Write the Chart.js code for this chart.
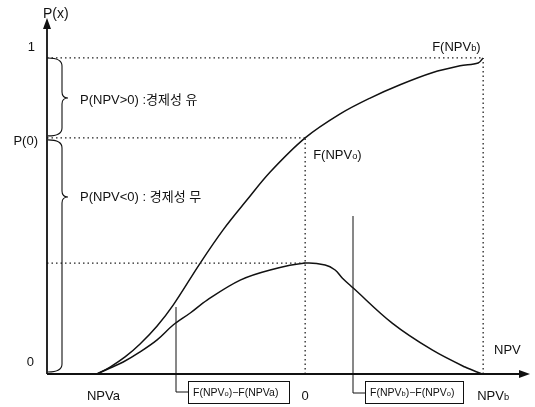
<!DOCTYPE html>
<html>
<head>
<meta charset="utf-8">
<script src="https://cdn.jsdelivr.net/npm/chart.js@4"></script>
<style>
  html, body { margin: 0; padding: 0; background: #fff; }
  #wrap { width: 535px; height: 407px; position: relative; }
</style>
</head>
<body>
<div id="wrap"><canvas id="npvChart"></canvas></div>
<script>
// key points on the NPV axis
var npvA = -100, npv0 = 0, npvB = 85.5;
var p0 = 0.747, pdfPeak = 0.351;

// cumulative curve F(NPV)
var cdfX = [-100, -93.7, -86.5, -79.3, -71.1, -63.4, -50.4, -39.4, -27.9, -16.8, 0, 16.8, 31.2, 45.6, 61, 74.4, 83.1, 85.5];
var cdfY = [0, 0.022, 0.054, 0.095, 0.152, 0.218, 0.351, 0.456, 0.551, 0.639, 0.747, 0.823, 0.873, 0.915, 0.953, 0.975, 0.984, 1.0];

// density curve
var pdfX = [-100, -93.7, -87.4, -79.3, -71.1, -63.4, -55.2, -47.1, -31.2, -16.8, 0, 9.6, 14.4, 17.8, 23.1, 41.8, 61, 76.8, 85];
var pdfY = [0, 0.019, 0.038, 0.070, 0.108, 0.155, 0.193, 0.234, 0.297, 0.329, 0.351, 0.345, 0.329, 0.304, 0.272, 0.161, 0.076, 0.022, 0];

// tick labels
var yTickLabels = ['0', 'P(0)', '1'];

var FONT = '"Liberation Sans", "Noto Sans CJK KR", sans-serif';

function pts(xs, ys) {
  return xs.map(function (x, i) { return { x: x, y: ys[i] }; });
}

function dotted(points) {
  return {
    data: points,
    borderColor: '#222',
    borderWidth: 1.3,
    borderDash: [1.5, 3],
    pointRadius: 0,
    showLine: true,
    tension: 0
  };
}

function curve(points) {
  return {
    data: points,
    borderColor: '#111',
    borderWidth: 1.5,
    pointRadius: 0,
    showLine: true,
    tension: 0.35
  };
}

// draw text with small subscript pieces: parts = [[text, small]]
function rich(ctx, parts, x, y, size) {
  var cx = x;
  parts.forEach(function (p) {
    var s = p[1] ? size * 0.72 : size;
    ctx.font = s + 'px ' + FONT;
    ctx.fillText(p[0], cx, y + (p[1] ? size * 0.12 : 0));
    cx += ctx.measureText(p[0]).width;
  });
  return cx - x;
}

function brace(ctx, x0, y1, y2, tip) {
  var bx = x0 + 15, tx = x0 + 21;
  ctx.beginPath();
  ctx.moveTo(x0 + 1, y1);
  ctx.quadraticCurveTo(bx, y1, bx, y1 + 8);
  ctx.lineTo(bx, tip - 6);
  ctx.quadraticCurveTo(bx, tip, tx, tip);
  ctx.quadraticCurveTo(bx, tip, bx, tip + 6);
  ctx.lineTo(bx, y2 - 8);
  ctx.quadraticCurveTo(bx, y2, x0 + 1, y2);
  ctx.stroke();
}

var decor = {
  id: 'decor',
  afterDatasetsDraw: function (chart) {
    var ctx = chart.ctx;
    var xs = chart.scales.x, ys = chart.scales.y;
    var X = function (v) { return xs.getPixelForValue(v); };
    var Y = function (v) { return ys.getPixelForValue(v); };
    var a = chart.chartArea;
    ctx.save();
    ctx.strokeStyle = '#111';
    ctx.fillStyle = '#111';

    // axes with arrows
    ctx.lineWidth = 1.8;
    ctx.beginPath();
    ctx.moveTo(a.left, Y(0));
    ctx.lineTo(a.left, a.top + 4);
    ctx.moveTo(a.left, Y(0));
    ctx.lineTo(a.right - 4, Y(0));
    ctx.stroke();
    ctx.beginPath();
    ctx.moveTo(a.left, a.top - 2);
    ctx.lineTo(a.left - 4, a.top + 9);
    ctx.lineTo(a.left + 4, a.top + 9);
    ctx.closePath();
    ctx.fill();
    ctx.beginPath();
    ctx.moveTo(a.right, Y(0));
    ctx.lineTo(a.right - 11, Y(0) - 4);
    ctx.lineTo(a.right - 11, Y(0) + 4);
    ctx.closePath();
    ctx.fill();

    // braces
    ctx.lineWidth = 1.1;
    brace(ctx, a.left, Y(1), Y(p0) - 2, 98);
    brace(ctx, a.left, Y(p0) + 2, Y(0) - 2, 197);

    // axis texts
    ctx.textBaseline = 'middle';
    ctx.font = '13px ' + FONT;
    ctx.textAlign = 'right';
    ctx.fillText(yTickLabels[2], 35, Y(1) - 11);
    ctx.fillText(yTickLabels[1], 38, Y(p0) + 4);
    ctx.fillText(yTickLabels[0], 34, Y(0) - 12);
    ctx.textAlign = 'left';
    ctx.font = '14px ' + FONT;
    ctx.fillText('P(x)', a.left - 4, 14);
    ctx.font = '13px ' + FONT;
    ctx.fillText('NPV', 494, 350);
    ctx.fillText('NPVa', X(npvA) - 10, 396);
    ctx.textAlign = 'center';
    ctx.fillText('0', X(npv0), 396);
    ctx.textAlign = 'left';
    rich(ctx, [['NPV', false], ['b', true]], X(npvB) - 6, 396, 13);

    // region texts
    ctx.font = '13px ' + FONT;
    ctx.fillText('P(NPV>0) :경제성 유', 80, 100);
    ctx.fillText('P(NPV<0) : 경제성 무', 80, 197);
    rich(ctx, [['F(NPV', false], ['b', true], [')', false]], X(npvB) - 51, 47, 13);
    rich(ctx, [['F(NPV', false], ['o', true], [')', false]], X(npv0) + 8, 155, 13);

    // callouts with boxes
    ctx.lineWidth = 1;
    function callout(vx, yTop, yBend, bx, bw, parts) {
      ctx.beginPath();
      ctx.moveTo(vx, yTop);
      ctx.lineTo(vx, yBend);
      ctx.lineTo(bx, yBend);
      ctx.stroke();
      ctx.strokeRect(bx + 0.5, 381.5, bw, 22);
      rich(ctx, parts, bx + 5, 393, 10.5);
    }
    callout(176, 307, 392, 188, 101,
      [['F(NPV', false], ['o', true], [')−F(NPVa)', false]]);
    callout(353, 216, 393, 365, 98,
      [['F(NPV', false], ['b', true], [')−F(NPV', false], ['o', true], [')', false]]);

    ctx.restore();
  }
};

new Chart(document.getElementById('npvChart'), {
  type: 'scatter',
  data: {
    datasets: [
      dotted([{ x: -124, y: 1 }, { x: npvB, y: 1 }]),
      dotted([{ x: -124, y: p0 }, { x: npv0, y: p0 }]),
      dotted([{ x: -124, y: pdfPeak }, { x: npv0, y: pdfPeak }]),
      dotted([{ x: npv0, y: 0 }, { x: npv0, y: p0 }]),
      dotted([{ x: npvB, y: 0 }, { x: npvB, y: 1 }]),
      curve(pts(cdfX, cdfY)),
      curve(pts(pdfX, pdfY))
    ]
  },
  options: {
    responsive: true,
    maintainAspectRatio: false,
    animation: false,
    devicePixelRatio: 1,
    layout: { padding: { left: 47, right: 5, top: 20, bottom: 33 } },
    plugins: { legend: { display: false }, tooltip: { enabled: false } },
    scales: {
      x: { type: 'linear', display: false, min: -124, max: 108 },
      y: { type: 'linear', display: false, min: 0, max: 1.12 }
    }
  },
  plugins: [decor]
});
</script>
</body>
</html>
